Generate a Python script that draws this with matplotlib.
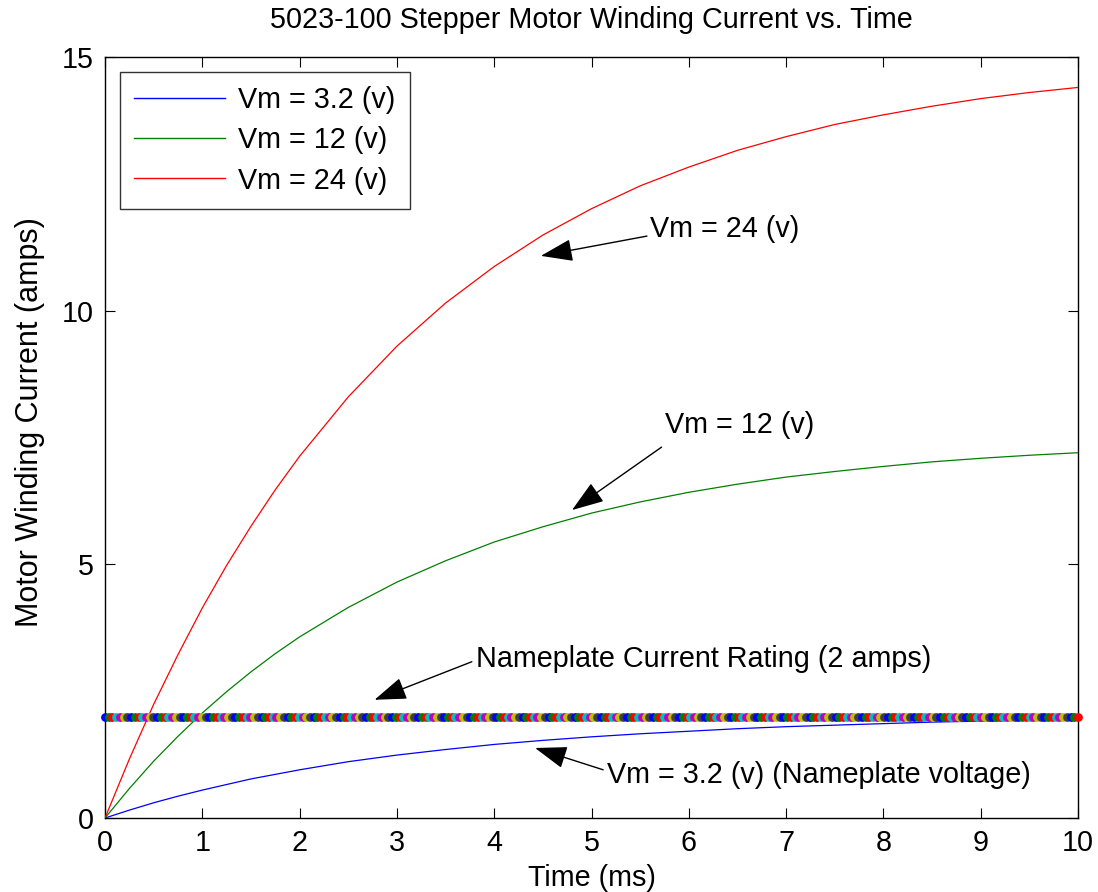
import numpy as np
import matplotlib
matplotlib.use("Agg")
import matplotlib.pyplot as plt

plt.rcParams['font.family'] = ['Liberation Sans', 'DejaVu Sans']

# Time samples (ms)
time_ms = [0, 0.25, 0.5, 0.75, 1.0, 1.25, 1.5, 1.75, 2.0, 2.5, 3.0, 3.5, 4.0,
           4.5, 5.0, 5.5, 6.0, 6.5, 7.0, 7.5, 8.0, 8.5, 9.0, 9.5, 10.0]

# Winding current (amps)
current_3v2 = [0, 0.155, 0.30, 0.43, 0.55, 0.66, 0.77, 0.86, 0.95, 1.11, 1.24,
               1.35, 1.45, 1.53, 1.60, 1.66, 1.71, 1.76, 1.80, 1.83, 1.86,
               1.89, 1.91, 1.93, 1.94]
current_12v = [0, 0.58, 1.12, 1.61, 2.07, 2.49, 2.88, 3.24, 3.57, 4.15, 4.65,
               5.07, 5.44, 5.74, 6.01, 6.23, 6.42, 6.58, 6.72, 6.83, 6.93,
               7.02, 7.09, 7.15, 7.20]
current_24v = [0, 1.16, 2.24, 3.22, 4.14, 4.98, 5.75, 6.47, 7.13, 8.30, 9.30,
               10.15, 10.87, 11.49, 12.01, 12.46, 12.83, 13.16, 13.43, 13.67,
               13.86, 14.03, 14.18, 14.30, 14.40]

series_labels = ['Vm = 3.2 (v)', 'Vm = 12 (v)', 'Vm = 24 (v)']
series_colors = ['#0000ff', '#008000', '#ff0000']

rated_current = 2.0  # nameplate current rating (amps)
rated_t_start, rated_t_end, rated_n = 0.0, 10.0, 262

x_ticks = [0, 1, 2, 3, 4, 5, 6, 7, 8, 9, 10]
y_ticks = [0, 5, 10, 15]

FS = 20.7

fig = plt.figure(figsize=(10.98, 8.92), dpi=100)
ax = fig.add_axes([105/1098, 1 - 818/892, (1078-105)/1098, (818-57)/892])

for vals, lab, col in zip([current_3v2, current_12v, current_24v],
                          series_labels, series_colors):
    ax.plot(time_ms, vals, color=col, lw=0.9, label=lab, zorder=3)

# Nameplate rating markers (multicoloured circles, MATLAB colour order)
marker_cycle = ['#0000ff', '#008000', '#ff0000', '#00bfbf', '#bf00bf',
                '#bfbf00', '#404040']
rated_t = np.linspace(rated_t_start, rated_t_end, rated_n)
for i, t in enumerate(rated_t):
    c = marker_cycle[i % len(marker_cycle)]
    ax.plot([t], [rated_current], 'o', ms=5.3, mfc=c, mec=c, mew=1.0,
            zorder=4, clip_on=False)

ax.set_xlim(0, 10)
ax.set_ylim(0, 15)
ax.set_xticks(x_ticks)
ax.set_yticks(y_ticks)
ax.tick_params(direction='in', length=7, width=0.8, top=True, right=True,
               labelsize=FS)
ax.tick_params(axis='x', pad=8)
ax.tick_params(axis='y', pad=8)
for s in ax.spines.values():
    s.set_linewidth(1.0)

ax.set_title('5023-100 Stepper Motor Winding Current vs. Time', fontsize=FS,
             pad=21)
ax.set_xlabel('Time (ms)', fontsize=FS, labelpad=5)
ax.set_ylabel('Motor Winding Current (amps)', fontsize=22, labelpad=12)
ax.yaxis.label.set_y(0.52)

leg = ax.legend(loc='upper left', bbox_to_anchor=(15/973, 1 - 15/761),
                fontsize=FS, frameon=True, fancybox=False, edgecolor='black',
                handlelength=3.15, borderaxespad=0, labelspacing=0.42,
                handletextpad=0.45, borderpad=0.5)
leg.get_frame().set_linewidth(1.0)
for ln in leg.get_lines():
    ln.set_linewidth(1.0)

arrow_kw = dict(arrowstyle='-|>,head_length=2.0,head_width=0.7',
                color='black', lw=1.0, shrinkA=0, shrinkB=0)

ax.annotate('', xy=(4.48, 11.08), xytext=(5.57, 11.47), arrowprops=arrow_kw)
ax.text(5.60, 11.6, 'Vm = 24 (v)', fontsize=FS, va='center', ha='left')

ax.annotate('', xy=(4.80, 6.07), xytext=(5.72, 7.31), arrowprops=arrow_kw)
ax.text(5.76, 7.75, 'Vm = 12 (v)', fontsize=FS, va='center', ha='left')

ax.annotate('', xy=(2.77, 2.33), xytext=(3.77, 3.08), arrowprops=arrow_kw)
ax.text(3.81, 3.13, 'Nameplate Current Rating (2 amps)', fontsize=FS,
        va='center', ha='left')

ax.annotate('', xy=(4.42, 1.38), xytext=(5.12, 0.95), arrowprops=arrow_kw)
ax.text(5.16, 0.85, 'Vm = 3.2 (v) (Nameplate voltage)', fontsize=FS,
        va='center', ha='left')

fig.savefig('out.png', dpi=100)
